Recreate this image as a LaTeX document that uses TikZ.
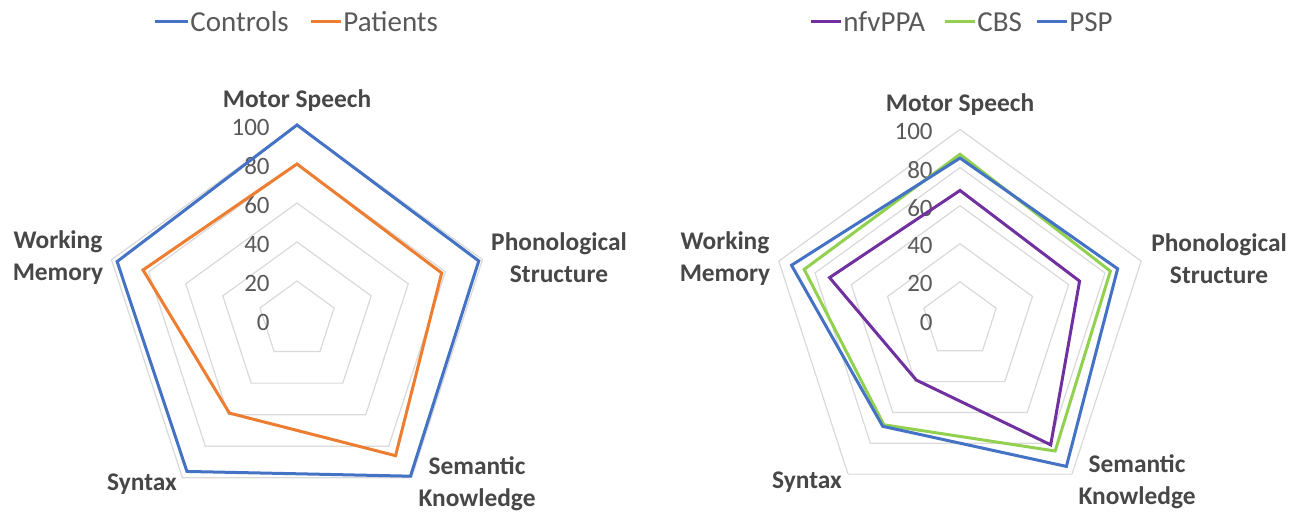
\documentclass[tikz,border=0pt]{standalone}
\usepackage{fontspec}
\setmainfont{Carlito}
\definecolor{ctrlblue}{HTML}{4472C4}
\definecolor{patorange}{HTML}{ED7D31}
\definecolor{nfvpurple}{HTML}{7030A0}
\definecolor{cbsgreen}{HTML}{92D050}
\definecolor{pspblue}{HTML}{4472C4}
\definecolor{labelgray}{HTML}{595959}
\begin{document}
\begin{tikzpicture}[x=0.5pt, y=0.5pt]
	\tikzstyle{gridline}   = [draw=black!15, line width=0.6pt, line join=miter]
	\tikzstyle{series}     = [line width=1.5pt, line join=miter]
	\tikzstyle{legendline} = [line width=1.5pt]
	\tikzstyle{axislabel}  = [font=\fontsize{12.7}{16}\selectfont\bfseries, text=black!72, align=center, inner sep=0pt]
	\tikzstyle{ticklabel}  = [font=\fontsize{12.5}{15}\selectfont, text=labelgray, anchor=east, inner sep=0pt]
	\tikzstyle{legendtext} = [font=\fontsize{14.5}{17}\selectfont, text=labelgray, anchor=west, inner sep=0pt]

	\useasboundingbox (0,0) rectangle (1300,519);

	% left chart: controls vs patients
	\begin{scope}[shift={(297,199)}]
		\foreach \r in {20,40,...,100}
			\draw[gridline] (90:\r*1.95) -- (18:\r*1.95) -- (-54:\r*1.95) -- (-126:\r*1.95) -- (162:\r*1.95) -- cycle;
		\foreach \v in {0,20,...,100}
			\node[ticklabel] (ltick\v) at (-27,\v*1.95-2) {\v};
		\foreach \col/\a/\b/\c/\d/\e in {ctrlblue/100/98/99/96/97, patorange/80/78/86/59/83}
			\draw[series, draw=\col] (90:\a*1.95) -- (18:\b*1.95) -- (-54:\c*1.95) -- (-126:\d*1.95) -- (162:\e*1.95) -- cycle;
	\end{scope}

	\foreach \name/\x/\y/\text in {lmotor/297/418/{Motor Speech}, lphon/559/261.5/{Phonological\\Structure},
			lsem/477/35.5/{Semantic\\Knowledge}, lsyn/142/34.7/{Syntax}, lwm/58/261.5/{Working\\Memory}}
		\node[axislabel] (\name) at (\x,\y) {\text};

	% right chart: nfvPPA, CBS, PSP
	\begin{scope}[shift={(960,199)}]
		\foreach \r in {20,40,...,100}
			\draw[gridline] (90:\r*1.905) -- (18:\r*1.905) -- (-54:\r*1.905) -- (-126:\r*1.905) -- (162:\r*1.905) -- cycle;
		\foreach \v in {0,20,...,100}
			\node[ticklabel] (rtick\v) at (-27,\v*1.905-2) {\v};
		\foreach \col/\a/\b/\c/\d/\e in {nfvpurple/68/66/81/39/72, cbsgreen/87/83/85/68/86, pspblue/85/87/95/69/93}
			\draw[series, draw=\col] (90:\a*1.905) -- (18:\b*1.905) -- (-54:\c*1.905) -- (-126:\d*1.905) -- (162:\e*1.905) -- cycle;
	\end{scope}

	\foreach \name/\x/\y/\text in {rmotor/960/414.7/{Motor Speech}, rphon/1219/260/{Phonological\\Structure},
			rsem/1137/37.7/{Semantic\\Knowledge}, rsyn/807/37.3/{Syntax}, rwm/725/260/{Working\\Memory}}
		\node[axislabel] (\name) at (\x,\y) {\text};

	% legends
	\foreach \name/\x/\text in {controls/190/Controls, patients/343/Patients, nfvppa/843/nfvPPA, cbs/977/CBS, psp/1069/PSP}
		\node[legendtext] (\name) at (\x,497) {\text};

	\foreach \name/\x/\col in {controls/155/ctrlblue, patients/311/patorange, nfvppa/811/nfvpurple, cbs/945/cbsgreen, psp/1037/pspblue} {
		\coordinate (\name start) at (\x,497);
		\draw[legendline, draw=\col] (\name start) -- ([xshift=-1pt]\name.west);
	}
\end{tikzpicture}
\end{document}
